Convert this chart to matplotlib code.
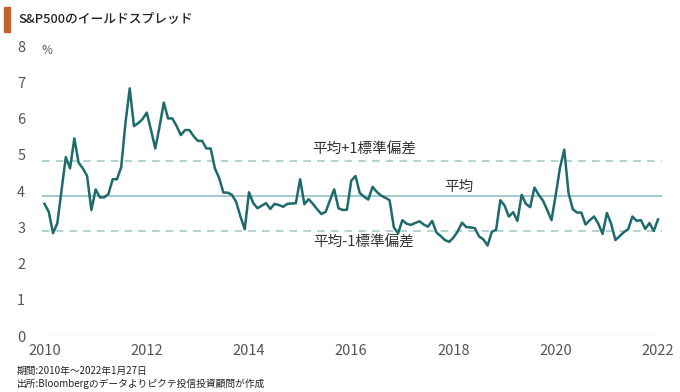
import numpy as np
import pandas as pd
import matplotlib
matplotlib.use("Agg")
import matplotlib.pyplot as plt
from matplotlib.patches import Rectangle

plt.rcParams['font.family'] = ['Noto Sans CJK JP', 'DejaVu Sans']

# monthly yield spread (%), 2010-01 .. 2022-01
spread = [
    3.65, 3.43, 2.84, 3.11, 4.03, 4.94, 4.63, 5.46, 4.79, 4.63, 4.42, 3.48,
    4.05, 3.83, 3.83, 3.92, 4.33, 4.33, 4.66, 5.88, 6.84, 5.80, 5.88, 5.99,
    6.17, 5.69, 5.18, 5.78, 6.45, 6.01, 6.01, 5.80, 5.55, 5.69, 5.69, 5.52,
    5.39, 5.39, 5.18, 5.18, 4.63, 4.36, 3.96, 3.96, 3.90, 3.70, 3.30, 2.95,
    3.97, 3.67, 3.53, 3.60, 3.67, 3.51, 3.65, 3.62, 3.57, 3.65, 3.66, 3.67,
    4.33, 3.64, 3.78, 3.65, 3.50, 3.37, 3.43, 3.75, 4.05, 3.53, 3.48, 3.49,
    4.29, 4.42, 3.95, 3.85, 3.77, 4.12, 3.98, 3.88, 3.82, 3.75, 3.00, 2.84,
    3.20, 3.10, 3.07, 3.12, 3.17, 3.08, 3.02, 3.18, 2.86, 2.76, 2.65, 2.60,
    2.72, 2.89, 3.13, 3.01, 3.00, 2.98, 2.75, 2.67, 2.50, 2.88, 2.93, 3.75,
    3.60, 3.30, 3.42, 3.18, 3.90, 3.65, 3.56, 4.10, 3.90, 3.74, 3.48, 3.20,
    3.90, 4.65, 5.15, 3.95, 3.50, 3.41, 3.41, 3.08, 3.20, 3.30, 3.10, 2.82,
    3.40, 3.10, 2.65, 2.76, 2.87, 2.95, 3.30, 3.18, 3.20, 2.96, 3.12, 2.90,
    3.22,
]
dates = pd.date_range("2010-01-01", periods=len(spread), freq="MS")
years = dates.year + (dates.month - 1) / 12.0

mean_val = 3.87
sd_upper = 4.83
sd_lower = 2.91

x_ticks = [2010, 2012, 2014, 2016, 2018, 2020, 2022]
y_ticks = [0, 1, 2, 3, 4, 5, 6, 7, 8]

line_col = "#1d6b6c"
mean_col = "#8bbcbd"
dash_col = "#9ec7c7"
text_col = "#333333"
tick_col = "#555555"

fig = plt.figure(figsize=(6.8, 3.92), dpi=100)
ax = fig.add_axes([42/680, 1-336/392, 620/680, (336-46.4)/392])

ax.axhline(mean_val, color=mean_col, lw=1.1)
ax.axhline(sd_upper, color=dash_col, lw=1.1, ls=(0, (5, 4)))
ax.axhline(sd_lower, color=dash_col, lw=1.1, ls=(0, (5, 4)))
ax.axhline(0, color="#dddddd", lw=1.0)
ax.plot(years, spread, color=line_col, lw=1.8, solid_joinstyle="round")

ax.set_xlim(2010 - 2.5/51.1, 2022 + 4/51.1)
ax.set_ylim(0, 8)
ax.set_xticks(x_ticks)
ax.set_yticks(y_ticks)
ax.tick_params(length=0, labelsize=10.5, colors=tick_col)
ax.tick_params(axis="y", pad=12)
ax.tick_params(axis="x", pad=6)
for s in ax.spines.values():
    s.set_visible(False)

# annotations placed in figure pixels
fig.text(364/680, 1-150/392, "平均+1標準偏差", fontsize=10.5, color=text_col, ha="center", va="center")
fig.text(459/680, 1-187/392, "平均", fontsize=10.5, color=text_col, ha="center", va="center")
fig.text(364/680, 1-243/392, "平均-1標準偏差", fontsize=10.5, color=text_col, ha="center", va="center")
fig.text(41/680, 1-50/392, "%", fontsize=8.5, color=tick_col, ha="left", va="center")

# title with bar
fig.patches.append(Rectangle((4/680, 1-32/392), 6/680, 25/392, transform=fig.transFigure,
                             color="#c8602a", zorder=5))
fig.text(18/680, 1-19/392, "S&P500のイールドスプレッド", fontsize=9.2, color="#222222",
         ha="left", va="center", fontweight="medium")

fig.text(17/680, 1-371/392, "期間:2010年～2022年1月27日", fontsize=7.0, color="#222222",
         ha="left", va="center")
fig.text(17/680, 1-384/392, "出所:Bloombergのデータよりピクテ投信投資顧問が作成", fontsize=7.0,
         color="#222222", ha="left", va="center")

fig.savefig("out.png", dpi=100)
